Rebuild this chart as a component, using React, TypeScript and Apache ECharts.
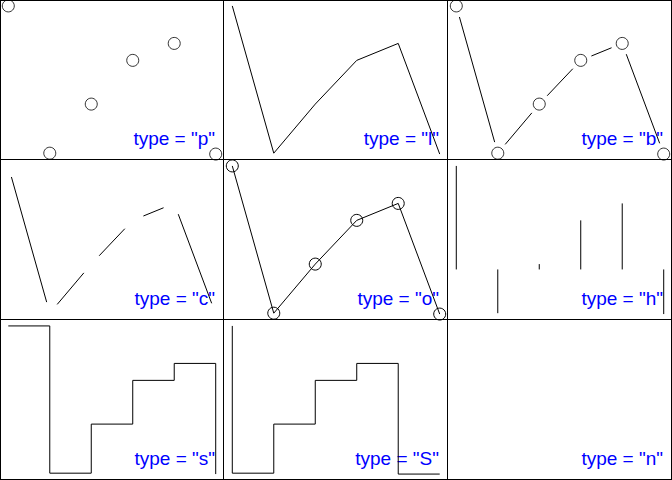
import React, { useEffect, useRef } from "react";
import * as echarts from "echarts";

const xs = [1, 2, 3, 4, 5, 6];
const ys = [2.32, -0.98, 0.12, 1.1, 1.48, -1.0];
const types = ["p", "l", "b", "c", "o", "h", "s", "S", "n"];

export default function App() {
  const ref = useRef<HTMLDivElement>(null);
  useEffect(() => {
    document.body.style.margin = "0";
    const chart = echarts.init(ref.current!, null, { renderer: "svg" });
    const PW = 224;
    const PH = 160;
    const xMin0 = Math.min(...xs), xMax0 = Math.max(...xs);
    const yMin0 = Math.min(...ys), yMax0 = Math.max(...ys);
    const xPad = (xMax0 - xMin0) * 0.04;
    const yPad = (yMax0 - yMin0) * 0.04;
    const pts = xs.map((x, i) => [x, ys[i]]);
    const segs = xs.slice(0, -1).map((x, i) => [x, ys[i], xs[i + 1], ys[i + 1]]);
    const circleStyle = { color: "rgba(0,0,0,0)", borderColor: "#000", borderWidth: 1 };
    const lineStyle = { color: "#000", width: 1 };
    const gapRender = (params: any, api: any) => {
      const a = api.coord([api.value(0), api.value(1)]);
      const b = api.coord([api.value(2), api.value(3)]);
      const dx = b[0] - a[0], dy = b[1] - a[1];
      const len = Math.hypot(dx, dy);
      const g = 11.5;
      if (len <= 2 * g) return null;
      const ux = dx / len, uy = dy / len;
      return {
        type: "line",
        shape: { x1: a[0] + ux * g, y1: a[1] + uy * g, x2: b[0] - ux * g, y2: b[1] - uy * g },
        style: { stroke: "#000", lineWidth: 1 },
      };
    };
    const hRender = (params: any, api: any) => {
      const a = api.coord([api.value(0), 0]);
      const b = api.coord([api.value(0), api.value(1)]);
      return {
        type: "line",
        shape: { x1: a[0], y1: a[1], x2: b[0], y2: b[1] },
        style: { stroke: "#000", lineWidth: 1 },
      };
    };

    const grids: any[] = [];
    const xAxes: any[] = [];
    const yAxes: any[] = [];
    const series: any[] = [];
    const graphics: any[] = [];

    types.forEach((t, i) => {
      const col = i % 3, row = Math.floor(i / 3);
      grids.push({ left: col * PW, top: row * PH, width: PW, height: PH, show: false });
      xAxes.push({ gridIndex: i, type: "value", min: xMin0 - xPad, max: xMax0 + xPad, show: false });
      yAxes.push({ gridIndex: i, type: "value", min: yMin0 - yPad, max: yMax0 + yPad, show: false });
      const base = { xAxisIndex: i, yAxisIndex: i, silent: true };
      const scatter = { ...base, type: "scatter", data: pts, symbol: "circle", symbolSize: 12, itemStyle: circleStyle };
      const gaps = { ...base, type: "custom", data: segs, renderItem: gapRender, encode: { x: [0, 2], y: [1, 3] } };
      if (t === "p") series.push(scatter);
      if (t === "l") series.push({ ...base, type: "line", data: pts, showSymbol: false, lineStyle });
      if (t === "b") series.push(gaps, scatter);
      if (t === "c") series.push(gaps);
      if (t === "o")
        series.push({ ...base, type: "line", data: pts, symbol: "circle", symbolSize: 12, showSymbol: true, showAllSymbol: true, itemStyle: circleStyle, lineStyle });
      if (t === "h") series.push({ ...base, type: "custom", data: pts, renderItem: hRender, encode: { x: 0, y: 1 } });
      if (t === "s") series.push({ ...base, type: "line", data: pts, step: "end", showSymbol: false, lineStyle });
      if (t === "S") series.push({ ...base, type: "line", data: pts, step: "start", showSymbol: false, lineStyle });

      graphics.push({
        type: "text",
        x: col * PW + 215,
        y: row * PH + 148,
        style: {
          text: 'type = "' + t + '"',
          fill: "#0000ff",
          font: '19px "Liberation Sans", Arial, sans-serif',
          textAlign: "right",
          textVerticalAlign: "bottom",
        },
      });
    });

    [0.5, 223.5, 447.5, 671.5].forEach((x) =>
      graphics.push({ type: "line", shape: { x1: x, y1: 0, x2: x, y2: 480 }, style: { stroke: "#000", lineWidth: 1 } })
    );
    [0.5, 159.5, 319.5, 479.5].forEach((y) =>
      graphics.push({ type: "line", shape: { x1: 0, y1: y, x2: 672, y2: y }, style: { stroke: "#000", lineWidth: 1 } })
    );

    chart.setOption({
      animation: false,
      backgroundColor: "#fff",
      grid: grids,
      xAxis: xAxes,
      yAxis: yAxes,
      series,
      graphic: graphics,
    });
    return () => chart.dispose();
  }, []);
  return <div ref={ref} style={{ width: 672, height: 480 }} />;
}
